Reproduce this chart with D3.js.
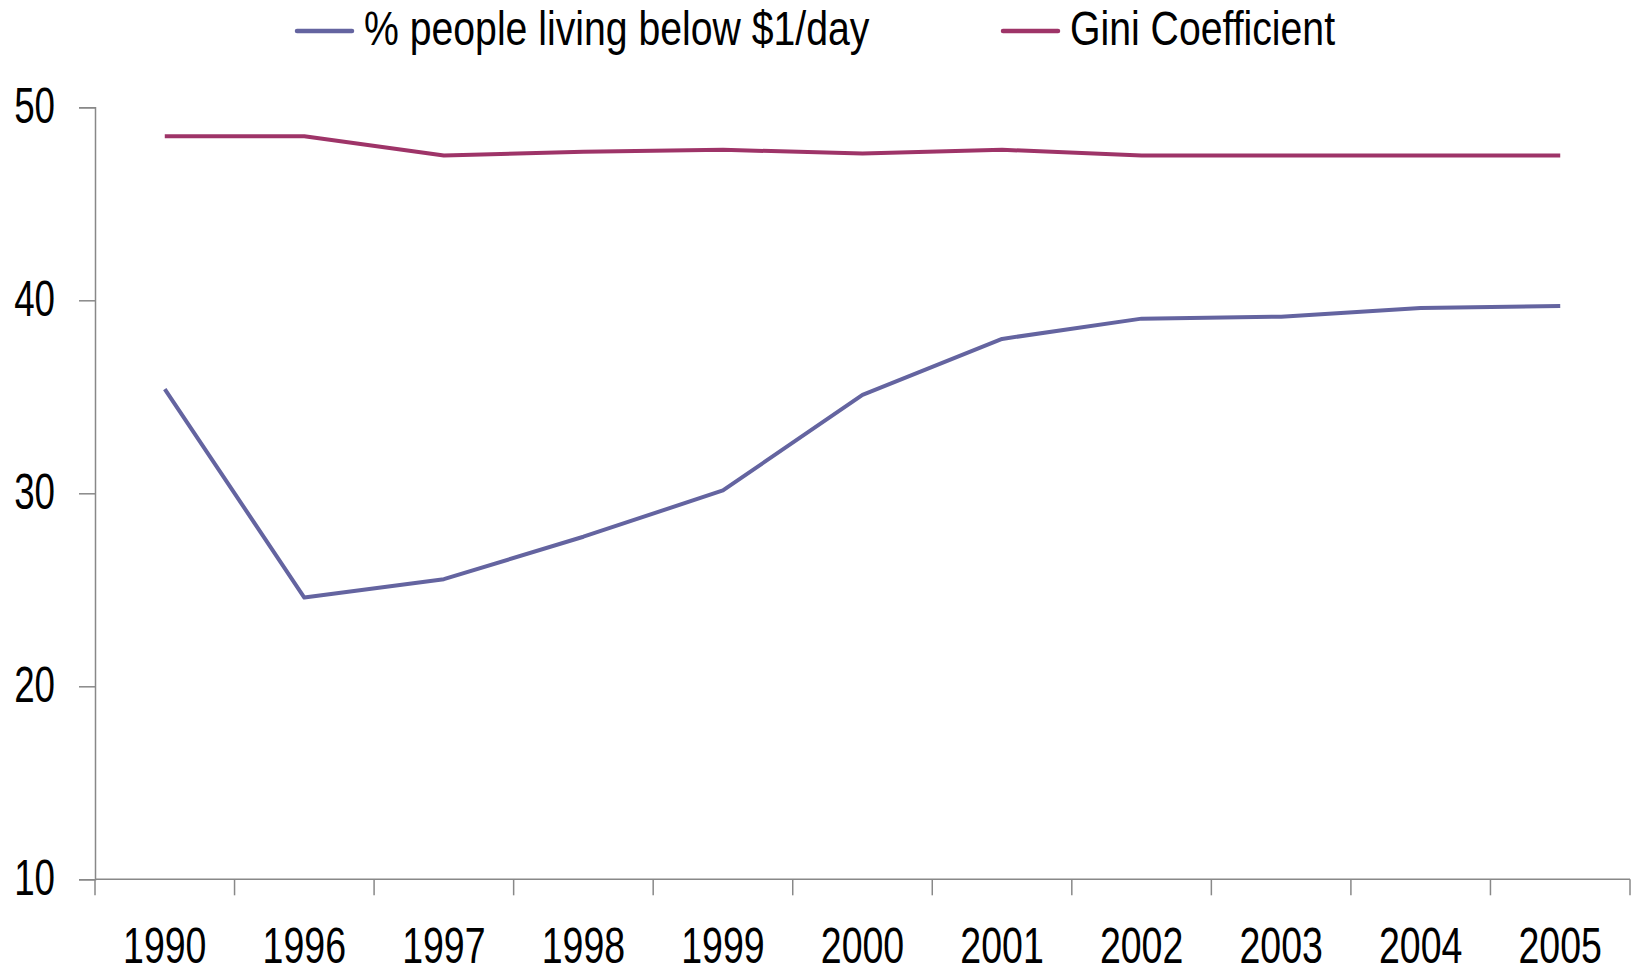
<!DOCTYPE html>
<html>
<head>
<meta charset="utf-8">
<script src="https://cdn.jsdelivr.net/npm/d3@7"></script>
<style>
  body { margin: 0; background: #fff; }
  text { font-family: "Liberation Sans Narrow", "Arial Narrow", "Liberation Sans", sans-serif; fill: #000; }
</style>
</head>
<body>
<div id="chart"></div>
<script>
// chart data
const years = ['1990', '1996', '1997', '1998', '1999', '2000', '2001', '2002', '2003', '2004', '2005'];
const poverty = [35.4, 24.6, 25.55, 27.75, 30.15, 35.1, 38.0, 39.05, 39.15, 39.6, 39.7];
const gini = [48.5, 48.5, 47.5, 47.7, 47.8, 47.6, 47.8, 47.5, 47.5, 47.5, 47.5];
const yTicks = [10, 20, 30, 40, 50];

const seriesList = [
    { name: '% people living below $1/day', values: poverty, color: '#6464a0' },
    { name: 'Gini Coefficient', values: gini, color: '#9e3468' }
];

const width = 1633, height = 975;
const margin = { left: 95, right: 3, top: 107.3, bottom: 95.7 };
// the original font is a condensed face, squeeze the fallback horizontally
const squeeze = 0.75;

const svg = d3.select('#chart')
    .append('svg')
    .attr('width', width)
    .attr('height', height);

let x = d3.scaleBand()
    .range([margin.left, width - margin.right])
    .domain(years);
let y = d3.scaleLinear()
    .range([height - margin.bottom, margin.top])
    .domain([10, 50]);

// x axis, ticks sit on band edges
const xAxis = svg.append('g')
    .attr('transform', `translate(0,${height - margin.bottom})`);
xAxis.append('line')
    .attr('x1', margin.left).attr('x2', width - margin.right)
    .attr('stroke', '#888').attr('stroke-width', 1.5);
xAxis.selectAll('line.tick')
    .data(years.concat(['end']))
    .enter()
    .append('line')
    .attr('class', 'tick')
    .attr('x1', (d, i) => i < years.length ? x(d) : x(years[years.length - 1]) + x.bandwidth())
    .attr('x2', (d, i) => i < years.length ? x(d) : x(years[years.length - 1]) + x.bandwidth())
    .attr('y1', 0).attr('y2', 16)
    .attr('stroke', '#888').attr('stroke-width', 1.5);
xAxis.selectAll('text')
    .data(years)
    .enter()
    .append('text')
    .attr('transform', d => `translate(${x(d) + x.bandwidth() / 2},84) scale(${squeeze},1)`)
    .attr('text-anchor', 'middle')
    .attr('font-size', 50)
    .text(d => d);

// y axis
const yAxis = svg.append('g')
    .attr('transform', `translate(${margin.left},0)`)
    .call(d3.axisLeft(y).tickValues(yTicks).tickSize(16).tickPadding(24).tickFormat(d3.format('d')));
yAxis.select('.domain').attr('stroke', '#888').attr('stroke-width', 1.5);
yAxis.selectAll('.tick line').attr('stroke', '#888').attr('stroke-width', 1.5);
yAxis.selectAll('.tick text')
    .attr('font-size', 49)
    .attr('font-family', null)
    .attr('fill', '#000')
    .attr('x', -40 / squeeze)
    .attr('transform', `scale(${squeeze},1)`);

// lines
const line = d3.line()
    .x((d, i) => x(years[i]) + x.bandwidth() / 2)
    .y(d => y(d));

svg.selectAll('path.series')
    .data(seriesList)
    .enter()
    .append('path')
    .attr('class', 'series')
    .attr('d', d => line(d.values))
    .attr('fill', 'none')
    .attr('stroke', d => d.color)
    .attr('stroke-width', 4)
    .attr('stroke-linejoin', 'round');

// legend
const legendX = [297, 1003];
const legend = svg.selectAll('g.legend')
    .data(seriesList)
    .enter()
    .append('g')
    .attr('class', 'legend')
    .attr('transform', (d, i) => `translate(${legendX[i]},31)`);
legend.append('line')
    .attr('x1', 0).attr('x2', 55)
    .attr('stroke', d => d.color)
    .attr('stroke-width', 4.5)
    .attr('stroke-linecap', 'round');
legend.append('text')
    .attr('transform', 'translate(67,14) scale(0.8,1)')
    .attr('font-size', 49)
    .text(d => d.name);
</script>
</body>
</html>
